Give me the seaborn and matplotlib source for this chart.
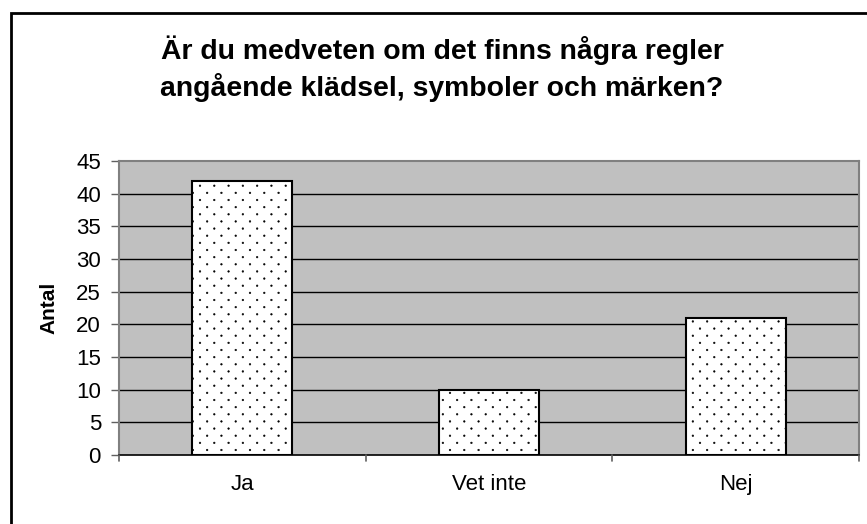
import matplotlib
matplotlib.use("Agg")
import numpy as np
import matplotlib.pyplot as plt
import matplotlib.hatch as mhatch
from matplotlib.path import Path
import seaborn as sns
import pandas as pd
from matplotlib.patches import Rectangle

categories = ["Ja", "Vet inte", "Nej"]
values = [42, 10, 21]
yticks = [0, 5, 10, 15, 20, 25, 30, 35, 40, 45]
title_lines = ["Är du medveten om det finns några regler",
               "angående klädsel, symboler och märken?"]
ylabel = "Antal"


# Excel-like dotted fill: small dots, staggered, denser vertically
class ExcelDots(mhatch.HatchPatternBase):
    def __init__(self, hatch, density):
        n = hatch.count('.')
        self.rows = 14 * n
        self.cols = 7 * n
        circ = Path.unit_circle()
        self.sv = circ.vertices
        self.sc = circ.codes
        if n == 0:
            nshapes = 0
        else:
            nshapes = (self.rows // 2 + 1) * (self.cols + 1) + (self.rows // 2) * self.cols
        self.num_vertices = nshapes * len(self.sv)

    def set_vertices_and_codes(self, vertices, codes):
        r = 0.008
        vparts, cparts = [], []
        for row in range(self.rows + 1):
            yy = row / self.rows
            if row % 2 == 0:
                xs = np.linspace(0, 1, self.cols + 1)
            else:
                xs = (np.arange(self.cols) + 0.5) / self.cols
            for xx in xs:
                vparts.append(self.sv * r + [xx, yy])
                cparts.append(self.sc)
        np.concatenate(vparts, out=vertices)
        np.concatenate(cparts, out=codes)


mhatch._hatch_types = [ExcelDots if t is mhatch.SmallFilledCircles else t
                       for t in mhatch._hatch_types]

sns.set_theme(style="white")
plt.rcParams['font.family'] = ['Liberation Sans', 'DejaVu Sans']
plt.rcParams['hatch.linewidth'] = 0.4
for k in ["text.color", "axes.labelcolor", "xtick.color", "ytick.color"]:
    plt.rcParams[k] = "black"

df = pd.DataFrame({"cat": categories, "val": values})

fig = plt.figure(figsize=(8.67, 5.24), dpi=100)
fig.patch.set_facecolor("white")
# outer chart frame (extends beyond the right/bottom edges)
fig.patches.append(Rectangle((11/867, -0.05), 1.2, 1 - 13/524 + 0.05,
                             transform=fig.transFigure, fill=False,
                             edgecolor="black", linewidth=2.0, zorder=0))

ax = fig.add_axes([119/867, 1 - 455/524, 740/867, (455 - 161)/524])
ax.set_facecolor("#C0C0C0")

sns.barplot(data=df, x="cat", y="val", ax=ax, color="white", width=0.405,
            edgecolor="black", linewidth=1.5, hatch=".", zorder=3, saturation=1)

ax.set_xlim(-0.5, 2.5)
ax.set_ylim(0, 45)
ax.set_yticks(yticks)
ax.set_yticklabels([str(t) for t in yticks], fontsize=16)
for y in yticks[1:-1]:
    ax.axhline(y, color="black", linewidth=1.0, zorder=1)

ax.set_xticks([0, 1, 2])
ax.set_xticklabels(categories, fontsize=16)
ax.tick_params(axis="x", length=0, pad=14)
ax.tick_params(axis="y", length=6, width=1, color="#606060", pad=7, left=True)
# category separator ticks on x axis
for xs in [-0.5, 0.5, 1.5, 2.5]:
    ax.plot([xs, xs], [0, -0.022], transform=ax.get_xaxis_transform(),
            color="#606060", linewidth=1.2, clip_on=False, zorder=5)

for side in ["top", "right", "left"]:
    ax.spines[side].set_visible(True)
    ax.spines[side].set_color("#808080")
    ax.spines[side].set_linewidth(1.5)
ax.spines["bottom"].set_color("black")
ax.spines["bottom"].set_linewidth(1.2)

ax.set_xlabel("")
ax.set_ylabel(ylabel, fontsize=15, fontweight="bold")
ax.yaxis.set_label_coords((58 - 119) / 740, 0.5)

fig.text(442/867, 1 - 59/524, title_lines[0], ha="center", va="baseline",
         fontsize=20.4, fontweight="bold")
fig.text(442/867, 1 - 96/524, title_lines[1], ha="center", va="baseline",
         fontsize=20.4, fontweight="bold")

fig.savefig("out.png", dpi=100)
